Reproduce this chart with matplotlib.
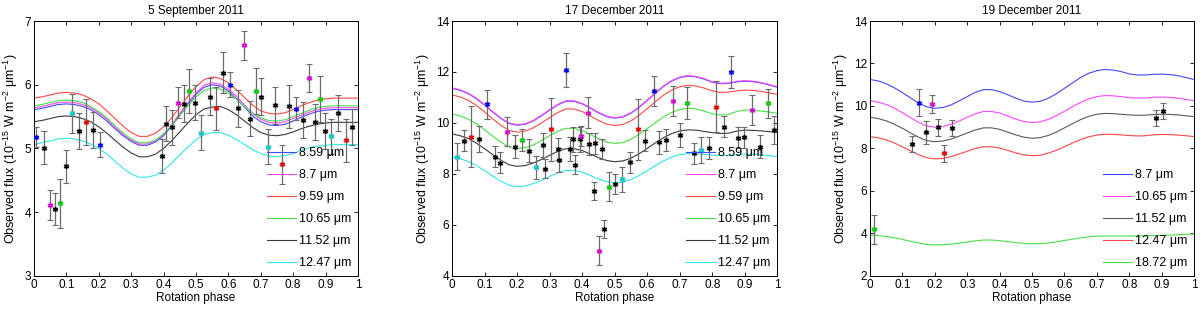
#!/usr/bin/env python3
import numpy as np
import matplotlib
matplotlib.use('Agg')
import matplotlib.pyplot as plt

'''
Observed flux vs rotation phase for three nights, with model curves per filter
'''

plt.rcParams['font.family'] = ['Liberation Sans', 'DejaVu Sans']
plt.rcParams['mathtext.fontset'] = 'custom'
plt.rcParams['mathtext.rm'] = 'Liberation Sans'
plt.rcParams['mathtext.it'] = 'Liberation Sans'

# model curves are sampled at these phases
phase = [0.000, 0.025, 0.050, 0.075, 0.100, 0.125, 0.150, 0.175, 0.200, 0.225,
         0.250, 0.275, 0.300, 0.325, 0.350, 0.375, 0.400, 0.425, 0.450, 0.475,
         0.500, 0.525, 0.550, 0.575, 0.600, 0.625, 0.650, 0.675, 0.700, 0.725,
         0.750, 0.775, 0.800, 0.825, 0.850, 0.875, 0.900, 0.925, 0.950, 0.975,
         1.000]

# ---- 5 September 2011 ----
sep_labels = ['8.59 μm', '8.7 μm', '9.59 μm', '10.65 μm', '11.52 μm', '12.47 μm']
sep_859 = [5.61, 5.63, 5.66, 5.69, 5.70, 5.69, 5.66, 5.61, 5.53, 5.43, 5.31, 5.20, 5.11, 5.05,
           5.05, 5.10, 5.20, 5.35, 5.52, 5.69, 5.85, 5.96, 6.00, 5.98, 5.90, 5.78, 5.65, 5.51,
           5.42, 5.37, 5.36, 5.38, 5.43, 5.49, 5.54, 5.58, 5.60, 5.61, 5.61, 5.61, 5.61]
sep_870 = [5.64, 5.66, 5.69, 5.72, 5.73, 5.72, 5.69, 5.64, 5.56, 5.46, 5.33, 5.22, 5.13, 5.07,
           5.07, 5.12, 5.22, 5.37, 5.55, 5.72, 5.87, 5.99, 6.03, 6.01, 5.93, 5.82, 5.68, 5.55,
           5.46, 5.41, 5.40, 5.42, 5.47, 5.52, 5.57, 5.61, 5.63, 5.64, 5.64, 5.64, 5.64]
sep_959 = [5.79, 5.81, 5.84, 5.87, 5.88, 5.87, 5.84, 5.78, 5.70, 5.59, 5.47, 5.35, 5.25, 5.19,
           5.19, 5.24, 5.34, 5.48, 5.65, 5.82, 5.97, 6.08, 6.12, 6.10, 6.03, 5.92, 5.80, 5.68,
           5.59, 5.55, 5.54, 5.56, 5.61, 5.67, 5.72, 5.76, 5.78, 5.79, 5.79, 5.79, 5.79]
sep_1065 = [5.67, 5.69, 5.72, 5.75, 5.76, 5.75, 5.72, 5.66, 5.58, 5.48, 5.36, 5.24, 5.15, 5.09,
            5.09, 5.13, 5.23, 5.36, 5.52, 5.67, 5.81, 5.91, 5.95, 5.93, 5.87, 5.77, 5.66, 5.55,
            5.48, 5.44, 5.43, 5.45, 5.50, 5.55, 5.60, 5.64, 5.66, 5.67, 5.67, 5.67, 5.67]
sep_1152 = [5.42, 5.44, 5.47, 5.50, 5.51, 5.50, 5.47, 5.42, 5.34, 5.24, 5.13, 5.02, 4.93, 4.87,
            4.87, 4.91, 5.00, 5.12, 5.26, 5.40, 5.53, 5.62, 5.65, 5.66, 5.61, 5.53, 5.43, 5.33,
            5.25, 5.21, 5.20, 5.22, 5.26, 5.31, 5.35, 5.38, 5.40, 5.41, 5.41, 5.41, 5.41]
sep_1247 = [5.06, 5.09, 5.12, 5.15, 5.16, 5.15, 5.12, 5.07, 5.00, 4.91, 4.80, 4.69, 4.60, 4.55,
            4.55, 4.58, 4.66, 4.77, 4.90, 5.02, 5.14, 5.22, 5.25, 5.25, 5.21, 5.14, 5.06, 4.98,
            4.92, 4.88, 4.87, 4.89, 4.92, 4.97, 5.01, 5.04, 5.05, 5.06, 5.06, 5.06, 5.06]

sep_x = [0.007, 0.031, 0.048, 0.065, 0.080, 0.098, 0.118, 0.139, 0.162, 0.183,
         0.205, 0.394, 0.408, 0.425, 0.444, 0.462, 0.478, 0.496, 0.516, 0.542,
         0.563, 0.583, 0.604, 0.630, 0.648, 0.666, 0.684, 0.700, 0.722, 0.743,
         0.765, 0.787, 0.809, 0.831, 0.849, 0.866, 0.884, 0.898, 0.918, 0.939,
         0.964, 0.983]
sep_y = [5.18, 5.01, 4.11, 4.05, 4.14, 4.72, 5.55, 5.27, 5.42, 5.29,
         5.06, 4.88, 5.39, 5.33, 5.72, 5.70, 5.90, 5.72, 5.25, 5.81,
         5.63, 6.19, 6.00, 5.63, 6.62, 5.47, 5.90, 5.81, 5.03, 5.68,
         4.75, 5.66, 5.62, 5.45, 6.11, 5.42, 5.77, 5.27, 5.19, 5.56,
         5.13, 5.34]
sep_err = [0.15, 0.26, 0.24, 0.25, 0.38, 0.26, 0.30, 0.28, 0.36, 0.28,
           0.20, 0.27, 0.28, 0.27, 0.24, 0.29, 0.35, 0.27, 0.27, 0.29,
           0.34, 0.32, 0.20, 0.29, 0.23, 0.28, 0.36, 0.29, 0.27, 0.29,
           0.31, 0.34, 0.18, 0.28, 0.22, 0.28, 0.36, 0.28, 0.28, 0.28,
           0.34, 0.28]
sep_band = ['b', 'k', 'm', 'k', 'g', 'k', 'c', 'k', 'r', 'k',
            'b', 'k', 'k', 'k', 'm', 'k', 'g', 'k', 'c', 'k',
            'r', 'k', 'b', 'k', 'm', 'k', 'g', 'k', 'c', 'k',
            'r', 'k', 'b', 'k', 'm', 'k', 'g', 'k', 'c', 'k',
            'r', 'k']

# ---- 17 December 2011 ----
d17_labels = ['8.59 μm', '8.7 μm', '9.59 μm', '10.65 μm', '11.52 μm', '12.47 μm']
d17_859 = [11.36, 11.28, 11.15, 10.95, 10.70, 10.43, 10.18, 9.98, 9.91, 9.95, 10.08, 10.28,
           10.50, 10.71, 10.85, 10.85, 10.75, 10.58, 10.40, 10.25, 10.19, 10.23, 10.38, 10.60,
           10.88, 11.16, 11.43, 11.64, 11.78, 11.84, 11.81, 11.72, 11.60, 11.54, 11.55, 11.61,
           11.64, 11.62, 11.57, 11.49, 11.40]
d17_870 = [11.38, 11.30, 11.17, 10.97, 10.72, 10.45, 10.20, 10.00, 9.93, 9.97, 10.10, 10.30,
           10.52, 10.73, 10.87, 10.87, 10.77, 10.60, 10.42, 10.27, 10.21, 10.25, 10.40, 10.62,
           10.90, 11.18, 11.45, 11.66, 11.80, 11.86, 11.83, 11.74, 11.62, 11.56, 11.57, 11.63,
           11.66, 11.64, 11.59, 11.51, 11.42]
d17_959 = [11.10, 11.02, 10.89, 10.69, 10.44, 10.16, 9.91, 9.71, 9.64, 9.68, 9.81, 10.00,
           10.21, 10.41, 10.55, 10.55, 10.45, 10.28, 10.10, 9.96, 9.90, 9.94, 10.08, 10.30,
           10.56, 10.83, 11.09, 11.29, 11.42, 11.48, 11.45, 11.37, 11.26, 11.20, 11.21, 11.26,
           11.29, 11.28, 11.24, 11.18, 11.12]
d17_1065 = [10.35, 10.28, 10.15, 9.97, 9.74, 9.48, 9.25, 9.06, 9.00, 9.03, 9.14, 9.31,
            9.50, 9.67, 9.79, 9.79, 9.70, 9.55, 9.39, 9.25, 9.20, 9.23, 9.36, 9.55,
            9.78, 10.01, 10.24, 10.41, 10.53, 10.58, 10.55, 10.47, 10.36, 10.31, 10.33, 10.45,
            10.51, 10.50, 10.47, 10.43, 10.38]
d17_1152 = [9.57, 9.50, 9.39, 9.21, 8.99, 8.76, 8.54, 8.36, 8.30, 8.33, 8.43, 8.57,
            8.73, 8.89, 8.99, 8.99, 8.92, 8.78, 8.64, 8.53, 8.48, 8.51, 8.62, 8.79,
            9.00, 9.22, 9.42, 9.58, 9.69, 9.73, 9.72, 9.67, 9.62, 9.59, 9.60, 9.68,
            9.72, 9.71, 9.69, 9.66, 9.62]
d17_1247 = [8.66, 8.60, 8.49, 8.33, 8.13, 7.92, 7.72, 7.56, 7.50, 7.53, 7.62, 7.75,
            7.90, 8.05, 8.14, 8.14, 8.07, 7.94, 7.80, 7.70, 7.65, 7.68, 7.78, 7.94,
            8.13, 8.33, 8.51, 8.66, 8.76, 8.80, 8.79, 8.77, 8.74, 8.72, 8.73, 8.76,
            8.78, 8.77, 8.75, 8.72, 8.68]

d17_x = [0.015, 0.036, 0.059, 0.082, 0.108, 0.132, 0.147, 0.170, 0.193, 0.214,
         0.236, 0.258, 0.281, 0.285, 0.303, 0.327, 0.330, 0.349, 0.363, 0.371,
         0.378, 0.393, 0.397, 0.417, 0.420, 0.435, 0.439, 0.452, 0.460, 0.468,
         0.484, 0.502, 0.524, 0.548, 0.572, 0.594, 0.620, 0.637, 0.658, 0.678,
         0.702, 0.723, 0.745, 0.767, 0.789, 0.813, 0.836, 0.858, 0.880, 0.897,
         0.923, 0.947, 0.971, 0.990]
d17_y = [8.68, 9.31, 9.46, 9.37, 10.73, 8.68, 8.44, 9.66, 9.07, 9.33,
         8.92, 8.26, 9.15, 8.20, 9.75, 8.98, 8.55, 12.07, 8.98, 9.36,
         8.37, 9.36, 9.49, 10.40, 9.18, 7.33, 9.20, 4.99, 8.98, 5.84,
         7.50, 7.61, 7.80, 8.46, 9.75, 9.31, 11.27, 9.24, 9.33, 10.86,
         9.53, 10.80, 8.81, 8.94, 9.01, 10.64, 9.86, 12.00, 9.42, 9.44,
         10.51, 9.07, 10.77, 9.73]
d17_err = [0.53, 0.42, 1.20, 0.52, 0.57, 0.40, 0.42, 0.57, 0.46, 0.42,
           0.45, 0.46, 0.47, 0.37, 1.24, 0.42, 0.46, 0.67, 0.46, 0.49,
           0.39, 0.50, 0.39, 0.61, 0.42, 0.37, 0.42, 0.58, 0.40, 0.35,
           0.56, 0.40, 0.49, 0.42, 1.20, 0.42, 0.59, 0.44, 0.44, 0.59,
           0.46, 0.63, 0.42, 0.50, 0.44, 1.00, 0.40, 0.63, 0.42, 0.42,
           0.59, 0.44, 0.57, 0.55]
d17_band = ['c', 'k', 'r', 'k', 'b', 'k', 'k', 'm', 'k', 'g',
            'k', 'c', 'k', 'k', 'r', 'k', 'k', 'b', 'k', 'k',
            'k', 'k', 'm', 'm', 'k', 'k', 'k', 'm', 'k', 'k',
            'g', 'k', 'c', 'k', 'r', 'k', 'b', 'k', 'k', 'm',
            'k', 'g', 'k', 'c', 'k', 'r', 'k', 'b', 'k', 'k',
            'm', 'k', 'g', 'k']

# ---- 19 December 2011 ----
d19_labels = ['8.7 μm', '10.65 μm', '11.52 μm', '12.47 μm', '18.72 μm']
d19_870 = [11.25, 11.18, 11.05, 10.86, 10.63, 10.38, 10.14, 9.96, 9.89, 9.93, 10.05, 10.24,
           10.44, 10.64, 10.77, 10.77, 10.68, 10.53, 10.37, 10.23, 10.18, 10.22, 10.36, 10.57,
           10.83, 11.09, 11.34, 11.54, 11.66, 11.72, 11.69, 11.62, 11.51, 11.46, 11.46, 11.49,
           11.50, 11.48, 11.43, 11.34, 11.25]
d19_1065 = [10.25, 10.18, 10.07, 9.90, 9.68, 9.45, 9.23, 9.06, 9.00, 9.03, 9.14, 9.29,
            9.47, 9.63, 9.74, 9.74, 9.67, 9.53, 9.38, 9.27, 9.22, 9.25, 9.37, 9.54,
            9.75, 9.97, 10.17, 10.34, 10.44, 10.49, 10.48, 10.44, 10.39, 10.37, 10.38, 10.41,
            10.42, 10.41, 10.37, 10.31, 10.25]
d19_1152 = [9.47, 9.41, 9.30, 9.14, 8.95, 8.73, 8.53, 8.37, 8.32, 8.35, 8.44, 8.58,
            8.73, 8.87, 8.97, 8.97, 8.90, 8.77, 8.64, 8.53, 8.48, 8.51, 8.61, 8.77,
            8.97, 9.17, 9.36, 9.51, 9.61, 9.65, 9.64, 9.61, 9.58, 9.56, 9.57, 9.60,
            9.61, 9.60, 9.58, 9.54, 9.50]
d19_1247 = [8.56, 8.50, 8.41, 8.26, 8.08, 7.89, 7.71, 7.56, 7.51, 7.53, 7.61, 7.74,
            7.87, 8.00, 8.08, 8.08, 8.02, 7.91, 7.79, 7.70, 7.66, 7.68, 7.78, 7.91,
            8.08, 8.26, 8.42, 8.55, 8.63, 8.67, 8.66, 8.64, 8.61, 8.59, 8.60, 8.64,
            8.66, 8.65, 8.63, 8.60, 8.56]
d19_1872 = [3.93, 3.90, 3.86, 3.80, 3.72, 3.63, 3.55, 3.48, 3.46, 3.47, 3.50, 3.55,
            3.60, 3.65, 3.69, 3.69, 3.66, 3.61, 3.57, 3.53, 3.51, 3.52, 3.55, 3.60,
            3.67, 3.73, 3.79, 3.84, 3.87, 3.88, 3.88, 3.88, 3.88, 3.88, 3.89, 3.90,
            3.91, 3.92, 3.94, 3.96, 3.97]

d19_x = [0.011, 0.130, 0.150, 0.174, 0.192, 0.209, 0.228, 0.252, 0.883, 0.905]
d19_y = [4.20, 8.20, 10.16, 8.76, 10.09, 9.00, 7.77, 8.96, 9.44, 9.76]
d19_err = [0.68, 0.37, 0.62, 0.53, 0.44, 0.39, 0.41, 0.38, 0.38, 0.36]
d19_band = ['g', 'k', 'b', 'k', 'm', 'k', 'r', 'k', 'k', 'k']

line_col = {'b': '#4646ff', 'm': '#ff46ff', 'r': '#ff4646', 'g': '#46e046',
            'k': '#3a3a3a', 'c': '#30e6e6', 'gray': '#5a5a5a'}
pt_col = {'b': '#0000ee', 'm': '#dd00dd', 'r': '#ee0000', 'g': '#00cc00',
          'k': '#000000', 'c': '#00cccc'}
asterisk = (6, 2, 0)


def panel(ax, title, curves, labels, colors, xs, ys, errs, bands, ylim, yticks):
    handles = []
    for c, lab, col in zip(curves, labels, colors):
        h, = ax.plot(phase, c, color=line_col[col], lw=0.8, label=lab)
        handles.append(h)
    ax.errorbar(xs, ys, yerr=errs, fmt='none', ecolor='0.42', elinewidth=0.9,
                capsize=2.2, capthick=0.8, zorder=3)
    for x, y, b in zip(xs, ys, bands):
        ax.plot(x, y, marker='o', ms=4.6, color='0.55', alpha=0.45, zorder=4, mew=0)
        ax.plot(x, y, marker=asterisk, ms=3.6, mew=0.9, color=pt_col[b], zorder=5)
    ax.set_xlim(0, 1)
    ax.set_ylim(*ylim)
    ax.set_xticks(np.arange(0, 1.01, 0.1))
    ax.set_xticklabels(['0', '0.1', '0.2', '0.3', '0.4', '0.5', '0.6', '0.7', '0.8', '0.9', '1'])
    ax.set_yticks(yticks)
    ax.tick_params(direction='in', top=True, right=True, labelsize=8.5, length=3, width=0.6, pad=2)
    for s in ax.spines.values():
        s.set_linewidth(0.7)
    ax.set_xlabel('Rotation phase', fontsize=8.5, labelpad=1)
    ax.set_ylabel('Observed flux (10$^{-15}$ W m$^{-2}$ μm$^{-1}$)', fontsize=9, labelpad=3)
    ax.set_title(title, fontsize=8.5, pad=5)
    ax.legend(handles=handles, loc='lower right', frameon=False, fontsize=9,
              handlelength=2.3, handletextpad=0.25, labelspacing=0.8,
              borderaxespad=0.15)


def main():
    fig = plt.figure(figsize=(12, 3.09), dpi=100)
    ax1 = fig.add_axes([0.0283, 0.107, 0.270, 0.825])
    ax2 = fig.add_axes([0.3767, 0.107, 0.271, 0.825])
    ax3 = fig.add_axes([0.7250, 0.107, 0.270, 0.825])

    panel(ax1, '5 September 2011',
          [sep_859, sep_870, sep_959, sep_1065, sep_1152, sep_1247],
          sep_labels, ['b', 'm', 'r', 'g', 'k', 'c'],
          sep_x, sep_y, sep_err, sep_band, (3, 7), [3, 4, 5, 6, 7])
    panel(ax2, '17 December 2011',
          [d17_859, d17_870, d17_959, d17_1065, d17_1152, d17_1247],
          d17_labels, ['b', 'm', 'r', 'g', 'k', 'c'],
          d17_x, d17_y, d17_err, d17_band, (4, 14), [4, 6, 8, 10, 12, 14])
    panel(ax3, '19 December 2011',
          [d19_870, d19_1065, d19_1152, d19_1247, d19_1872],
          d19_labels, ['b', 'm', 'gray', 'r', 'g'],
          d19_x, d19_y, d19_err, d19_band, (2, 14), [2, 4, 6, 8, 10, 12, 14])

    fig.savefig('out.png', dpi=100)


if __name__ == "__main__":
    main()
